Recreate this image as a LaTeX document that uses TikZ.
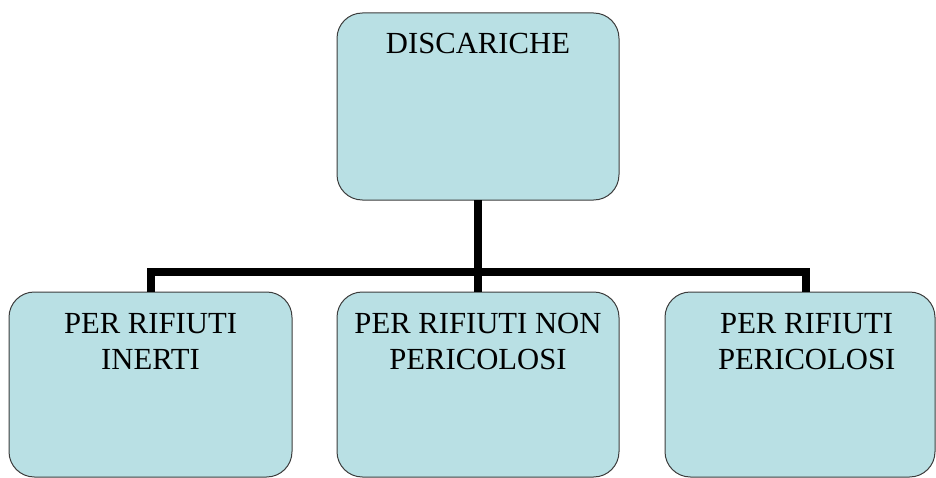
\documentclass[tikz,border=0pt]{standalone}
\usepackage{fontspec}
\setmainfont{Liberation Serif}
\usetikzlibrary{positioning}

\definecolor{boxfill}{RGB}{185,224,228}
\definecolor{boxline}{RGB}{60,60,60}

\tikzset{
  discbox/.style={draw=boxline, line width=0.75pt, fill=boxfill, rounded corners=19pt, outer sep=0pt, inner sep=0pt},
  boxlabel/.style={inner sep=0pt, align=center, font=\fontsize{23}{27}\selectfont},
  branch/.style={line width=6pt, black}
}

\begin{document}
\begin{tikzpicture}[x=0.75pt,y=0.75pt,yscale=-1,xscale=1]
\useasboundingbox (0,0) rectangle (936,478);

% Boxes
\node[discbox, minimum width=211.5pt, minimum height=140.25pt] (disc) at (478,106.5) {};
\node[discbox, minimum width=212.25pt, minimum height=138.75pt] (inerti) at (150.5,384.5) {};
\node[discbox, minimum width=211.5pt, minimum height=138.75pt] (nonperic) at (478,384.5) {};
\node[discbox, minimum width=202.5pt, minimum height=138.75pt] (peric) at (800,384.5) {};

% Labels
\node[boxlabel, below=15pt of disc.north] (disctext) {DISCARICHE};
\node[boxlabel, below=15.5pt of inerti.north] (inertitext) {PER RIFIUTI\\INERTI};
\node[boxlabel, below=15.5pt of nonperic.north] (nonperictext) {PER RIFIUTI NON\\PERICOLOSI};
\node[boxlabel, below=15.5pt of peric.north, xshift=5pt] (perictext) {PER RIFIUTI\\PERICOLOSI};

% Connectors
\coordinate (bus) at (478,272);
\draw[branch] (disc.south) -- (nonperic.north);
\draw[branch] (disc.south |- bus) -| (inerti.north);
\draw[branch] (disc.south |- bus) -| ([xshift=4.5pt]peric.north);

\end{tikzpicture}
\end{document}
